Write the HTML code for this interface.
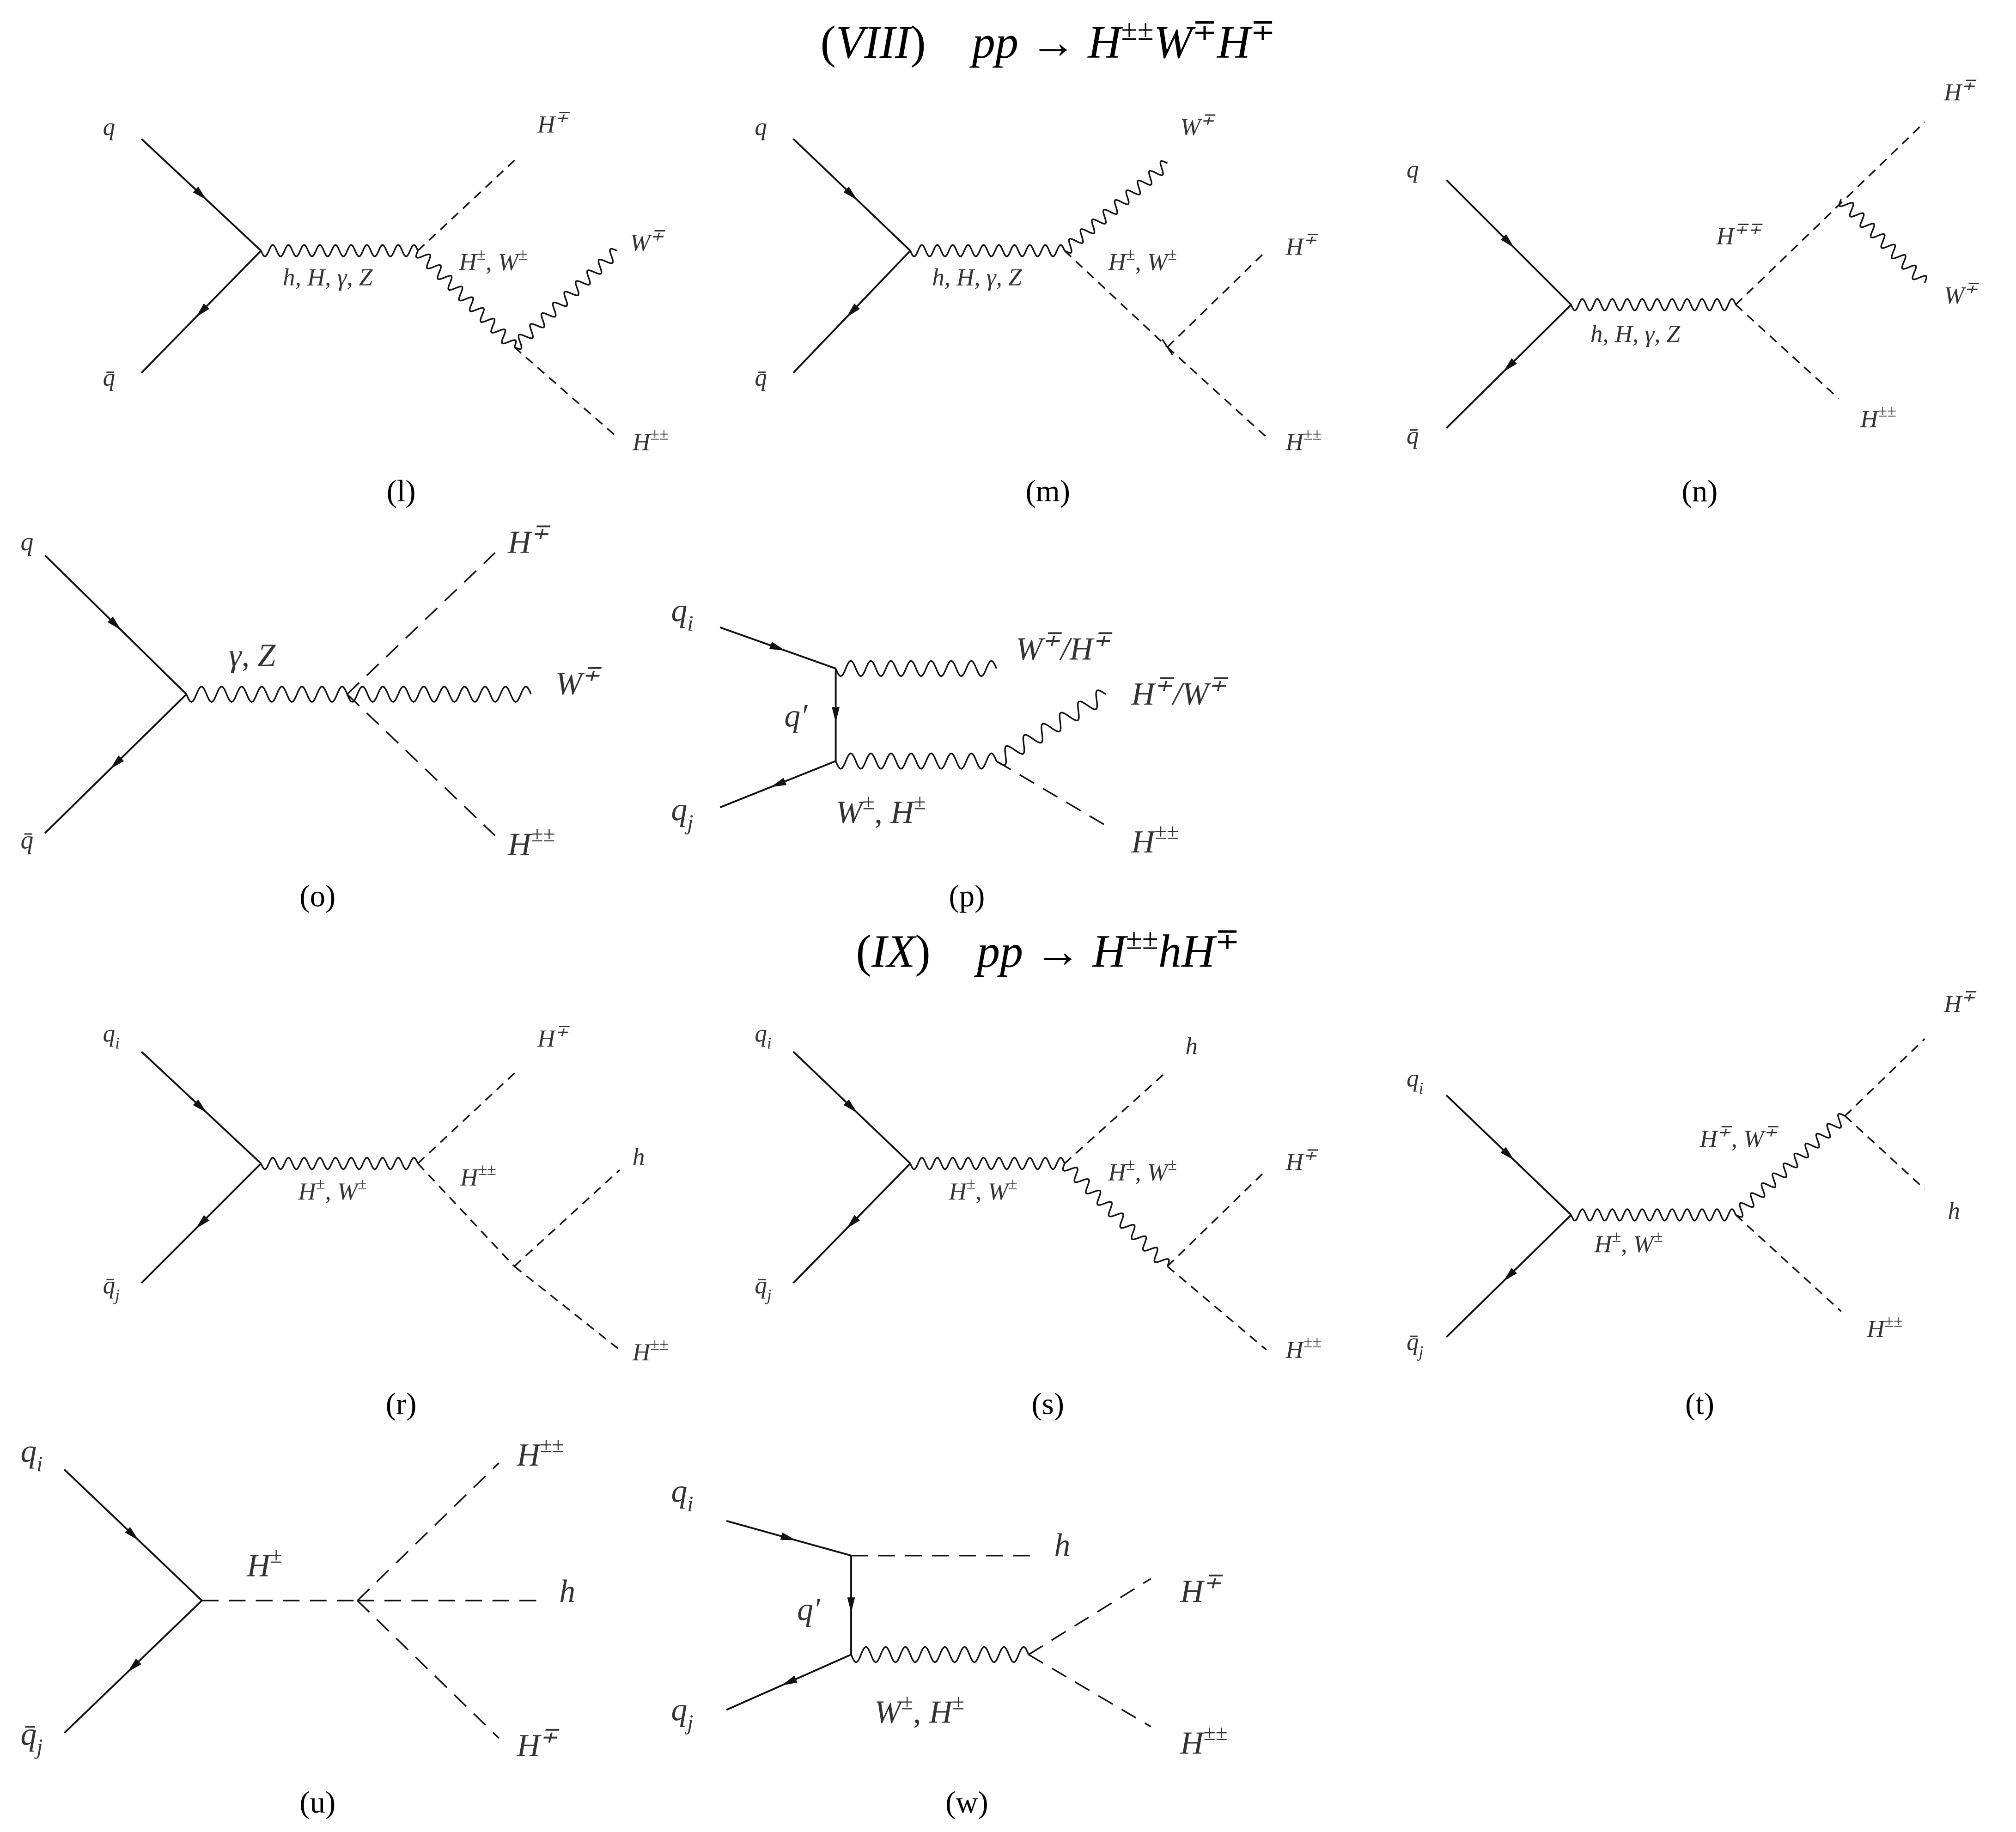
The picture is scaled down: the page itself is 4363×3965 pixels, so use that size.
<!DOCTYPE html>
<html><head><meta charset="utf-8">
<style>
html,body{margin:0;padding:0;background:#fff;}
svg{display:block;}
text{font-family:"Liberation Serif",serif;}
.m{font-style:italic;fill:#333;}
</style></head>
<body>
<svg id="s" xmlns="http://www.w3.org/2000/svg" width="4363" height="3965" viewBox="0 0 1568 1425" preserveAspectRatio="none">
<rect width="1568" height="1425" fill="#fff"/>
<text x="815" y="45" font-size="36" text-anchor="middle"><tspan>(</tspan><tspan font-style="italic">VIII</tspan><tspan>)&#160;&#160;&#160;&#160;</tspan><tspan font-style="italic">pp</tspan><tspan> → </tspan><tspan font-style="italic">H</tspan><tspan font-size="23" dy="-14">±±</tspan><tspan font-style="italic" dy="14">W</tspan><tspan font-size="23" dy="-14">∓</tspan><tspan font-style="italic" dy="14">H</tspan><tspan font-size="23" dy="-14">∓</tspan></text>
<text x="815" y="752" font-size="36" text-anchor="middle"><tspan>(</tspan><tspan font-style="italic">IX</tspan><tspan>)&#160;&#160;&#160;&#160;</tspan><tspan font-style="italic">pp</tspan><tspan> → </tspan><tspan font-style="italic">H</tspan><tspan font-size="23" dy="-14">±±</tspan><tspan font-style="italic" dy="14">hH</tspan><tspan font-size="23" dy="-14">∓</tspan></text>
<g id="g"></g>
</svg>
<script>
var g=document.getElementById('g'),NS='http://www.w3.org/2000/svg';
function el(t,a){var e=document.createElementNS(NS,t);for(var k in a)e.setAttribute(k,a[k]);g.appendChild(e);return e;}
function L(x1,y1,x2,y2,w){el('line',{x1:x1,y1:y1,x2:x2,y2:y2,stroke:'#111','stroke-width':w||1.3});}
function D(x1,y1,x2,y2,big){el('line',{x1:x1,y1:y1,x2:x2,y2:y2,stroke:'#111','stroke-width':1.2,'stroke-dasharray':big?'13,8':'7,5'});}
function W(x1,y1,x2,y2,big){var dx=x2-x1,dy=y2-y1,len=Math.hypot(dx,dy),ux=dx/len,uy=dy/len,nx=-uy,ny=ux;
var wl=big?16:12,A=big?6:4.5,n=Math.max(1,Math.round(len/wl)),st=n*16,d='M'+x1+' '+y1;
for(var i=1;i<=st;i++){var t=i/st,s=t*len,o=A*Math.sin(t*n*2*Math.PI);d+=' L'+(x1+ux*s+nx*o).toFixed(2)+' '+(y1+uy*s+ny*o).toFixed(2);}
el('path',{d:d,fill:'none',stroke:'#111','stroke-width':1.2});}
function F(x1,y1,x2,y2){L(x1,y1,x2,y2,1.4);var mx=(x1+x2)/2,my=(y1+y2)/2,dx=x2-x1,dy=y2-y1,l=Math.hypot(dx,dy),ux=dx/l,uy=dy/l,s=6;
el('polygon',{points:(mx+ux*s)+','+(my+uy*s)+' '+(mx-ux*s+uy*3)+','+(my-uy*s-ux*3)+' '+(mx-ux*s-uy*3)+','+(my-uy*s+ux*3),fill:'#111'});}
// parts: array of [text, mode] mode 0 normal, 1 sup, 2 sub, 3 upright
function R(x,y,sz,parts){var e=el('text',{x:x,y:y,'font-size':sz,'class':'m'});var cur=0;
parts.forEach(function(p){if(!p[0])return;var t=document.createElementNS(NS,'tspan');t.textContent=p[0];
var want=p[1]==1?-sz*0.42:(p[1]==2?sz*0.3:0);if(want!=cur){t.setAttribute('dy',want-cur);cur=want;}
if(p[1]==1||p[1]==2)t.setAttribute('font-size',sz*0.68);if(p[1]==3)t.setAttribute('font-style','normal');e.appendChild(t);});}
function T(x,y,txt,sz,sup,sub){R(x,y,sz,[[txt,0],[sup,1],[sub,2]]);}
function TT(x,y,s){var e=el('text',{x:x,y:y,'font-size':24,'text-anchor':'middle'});e.textContent=s;}
function HW(x,y,sz,a,b,s1,s2){R(x,y,sz,[[a,0],[s1,1],[',\u00a0',3],[b,0],[s2,1]]);}
var S=19,B=25;
// (l)
T(80,105,'q',S);F(110,108,203,195);F(203,195,110,290);T(80,300,'q̄',S);
W(203,195,325,195);T(220,222,'h, H, γ, Z',S);
D(325,195,402,123);T(418,103,'H',S,'∓');
W(325,195,400,270);HW(357,210,S,'H','W','±','±');
W(400,270,480,195);T(490,195,'W',S,'∓');
D(400,270,480,340);T(492,350,'H',S,'±±');TT(312,390,'(l)');
// (m)
T(587,105,'q',S);F(617,108,708,195);F(708,195,617,290);T(587,300,'q̄',S);
W(708,195,828,195);T(725,222,'h, H, γ, Z',S);
W(828,195,908,127);T(918,105,'W',S,'∓');
D(828,195,908,270);HW(862,210,S,'H','W','±','±');
D(908,270,985,195);T(1000,198,'H',S,'∓');
D(908,270,985,340);T(1000,350,'H',S,'±±');L(904,264,912,276,1.2);TT(815,390,'(m)');
// (n)
T(1094,138,'q',S);F(1125,140,1222,237);F(1222,237,1125,333);T(1094,345,'q̄',S);
W(1222,237,1350,237);T(1237,266,'h, H, γ, Z',S);
D(1350,237,1497,95);T(1512,78,'H',S,'∓');T(1335,190,'H',S,'∓∓');
W(1432,155,1497,220);T(1512,236,'W',S,'∓');
D(1350,237,1430,310);T(1447,332,'H',S,'±±');TT(1322,390,'(n)');
// (o)
T(16,428,'q',20);F(35,432,145,540);F(145,540,35,648);T(16,660,'q̄',20);
W(145,540,270,540,1);HW(178,518,B,'γ','Z','','');
D(270,540,385,430,1);T(395,430,'H',B,'∓');
W(270,540,413,540,1);T(432,540,'W',B,'∓');
D(270,540,385,650,1);T(395,665,'H',B,'±±');TT(247,705,'(o)');
// (p)
T(522,483,'q',B,null,'i');F(560,488,650,520);
W(650,520,775,520,1);R(790,513,B,[['W',0],['∓',1],['/H',0],['∓',1]]);
F(650,520,650,592);T(610,565,'q′',B);
T(522,638,'q',B,null,'j');F(650,592,560,628);
W(650,592,775,592,1);HW(650,640,B,'W','H','±','±');
W(775,592,860,540,1);R(880,548,B,[['H',0],['∓',1],['/W',0],['∓',1]]);
D(775,592,865,645,1);T(880,663,'H',B,'±±');TT(752,705,'(p)');
// (r)
T(80,810,'q',S,null,'i');F(110,818,203,905);F(203,905,110,998);T(80,1006,'q̄',S,null,'j');
W(203,905,325,905);HW(232,933,S,'H','W','±','±');
D(325,905,402,833);T(418,814,'H',S,'∓');
D(325,905,400,985);T(358,922,'H',S,'±±');
D(400,985,482,910);T(492,906,'h',S);
D(400,985,482,1050);T(492,1058,'H',S,'±±');TT(312,1100,'(r)');
// (s)
T(587,810,'q',S,null,'i');F(617,818,708,905);F(708,905,617,998);T(587,1006,'q̄',S,null,'j');
W(708,905,828,905);HW(738,933,S,'H','W','±','±');
D(828,905,908,833);T(922,820,'h',S);
W(828,905,908,985);HW(862,918,S,'H','W','±','±');
D(908,985,985,910);T(1000,910,'H',S,'∓');
D(908,985,985,1050);T(1000,1056,'H',S,'±±');TT(815,1100,'(s)');
// (t)
T(1094,845,'q',S,null,'i');F(1125,852,1222,945);F(1222,945,1125,1040);T(1094,1050,'q̄',S,null,'j');
W(1222,945,1350,945);HW(1240,974,S,'H','W','±','±');
W(1350,945,1435,868);HW(1322,892,S,'H','W','∓','∓');
D(1435,868,1497,808);T(1512,787,'H',S,'∓');
D(1435,868,1497,925);T(1515,948,'h',S);
D(1350,945,1432,1020);T(1452,1040,'H',S,'±±');TT(1322,1100,'(t)');
// (u)
T(16,1137,'q',B,null,'i');F(50,1143,157,1245);F(157,1245,50,1348);T(16,1357,'q̄',B,null,'j');
D(157,1245,278,1245,1);T(192,1226,'H',B,'±');
D(278,1245,388,1138,1);T(402,1140,'H',B,'±±');
D(278,1245,420,1245,1);T(435,1246,'h',B);
D(278,1245,388,1352,1);T(402,1366,'H',B,'∓');TT(247,1410,'(u)');
// (w)
T(522,1168,'q',B,null,'i');F(565,1183,662,1210);
D(662,1210,805,1210,1);T(820,1210,'h',B);
F(662,1210,662,1287);T(620,1260,'q′',B);
T(522,1338,'q',B,null,'j');F(662,1287,565,1330);
W(662,1287,800,1287,1);HW(680,1340,B,'W','H','±','±');
D(800,1287,895,1228,1);T(918,1246,'H',B,'∓');
D(800,1287,895,1343,1);T(918,1364,'H',B,'±±');TT(752,1410,'(w)');
</script>
</body></html>
